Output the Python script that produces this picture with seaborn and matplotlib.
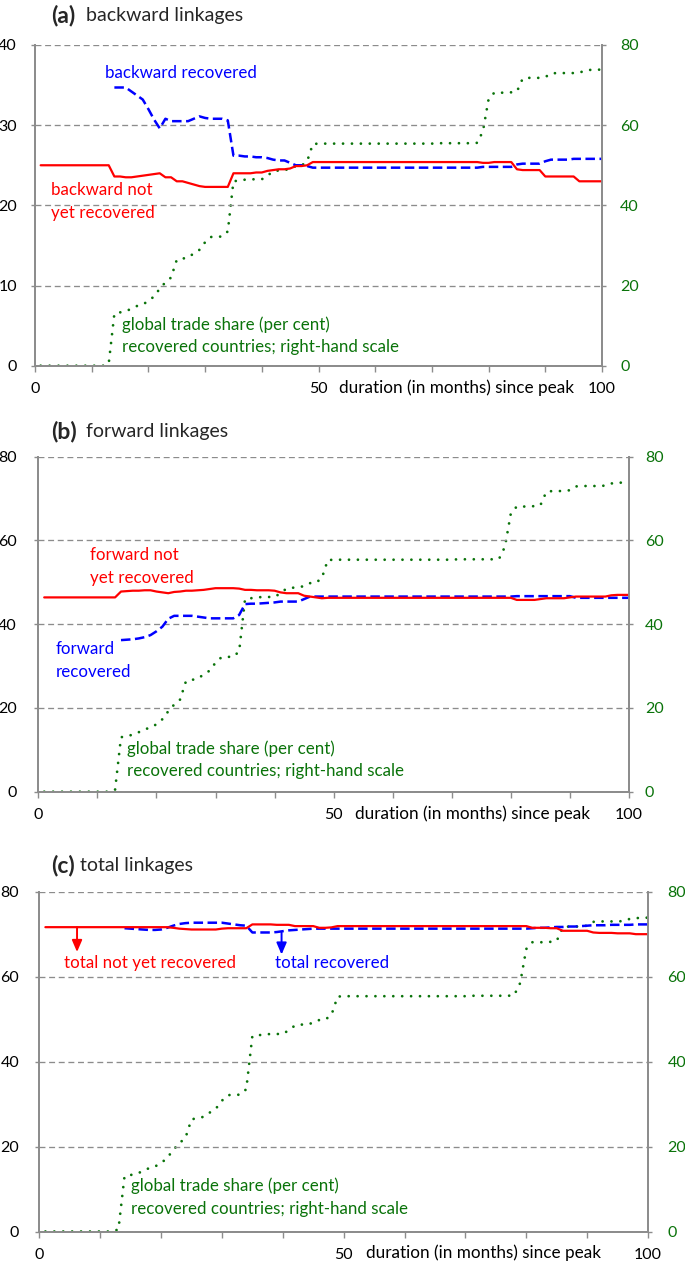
import numpy as np
import pandas as pd
import matplotlib
matplotlib.use("Agg")
import matplotlib.pyplot as plt
import seaborn as sns

# ---------------- data ----------------
months = list(range(1, 101))
rec_months = list(range(14, 101))

trade_share = ([0.0] * 12 + [0.5]
               + [13.0, 13.3, 13.6, 14.2, 14.9, 15.3, 16.1, 17.3, 19.2, 20.8, 22.0]
               + [26.4, 26.7, 27.0, 28.0, 28.9, 30.8, 32.1, 32.2, 32.2, 33.5]
               + [46.0, 46.2, 46.4, 46.5, 46.5, 46.5, 47.4, 48.5, 48.7, 48.8, 49.1, 49.8, 49.9, 51.0, 55.3]
               + [55.4] * 21 + [55.5] * 7
               + [55.6, 58.5, 66.5, 68.1]
               + [68.1, 68.1, 68.2, 68.4]
               + [71.6, 71.8, 71.8, 71.8, 72.0]
               + [72.9, 73.0, 73.0, 73.0, 73.0, 73.1]
               + [73.6, 73.8, 73.8, 73.9])

backward_not = ([25.0] * 13
                + [23.6, 23.6, 23.5, 23.5, 23.6, 23.7]
                + [23.8, 23.9, 24.0, 23.5, 23.5]
                + [23.0, 23.0, 22.8, 22.6, 22.4, 22.3, 22.3, 22.3, 22.3]
                + [22.3]
                + [24.0, 24.0, 24.0, 24.0, 24.1, 24.1]
                + [24.3, 24.4, 24.5, 24.5, 24.6, 24.9, 24.9, 25.0]
                + [25.4] * 30
                + [25.3, 25.3]
                + [25.4] * 4
                + [24.5, 24.4, 24.4, 24.4, 24.4]
                + [23.6] * 6
                + [23.0] * 5)

backward_rec = ([34.7, 34.7, 34.7]
                + [34.2, 33.7, 33.2, 32.0, 30.7, 29.6]
                + [30.8, 30.5, 30.5, 30.5, 30.5]
                + [30.8, 31.1, 30.9, 30.8, 30.8, 30.8]
                + [30.6, 26.2]
                + [26.2, 26.1, 26.1, 26.0, 26.0]
                + [25.9, 25.7, 25.6, 25.6, 25.3, 25.0, 25.0, 24.9, 24.7]
                + [24.7] * 29
                + [24.8] * 6
                + [25.1, 25.2, 25.2, 25.2, 25.2, 25.5, 25.7]
                + [25.7, 25.7, 25.7, 25.8, 25.8, 25.8, 25.8, 25.8, 25.8])

forward_not = ([46.4] * 13
               + [47.8, 47.9, 48.0, 48.0, 48.1, 48.1]
               + [47.8, 47.6, 47.4, 47.7, 47.8, 48.0, 48.0, 48.1, 48.2]
               + [48.4, 48.6, 48.6, 48.6, 48.6, 48.5]
               + [48.2, 48.2, 48.1, 48.1, 48.1, 48.0]
               + [47.6, 47.4, 47.4, 47.4, 46.8, 46.6, 46.4, 46.2]
               + [46.3] * 32
               + [45.8] * 4
               + [46.0, 46.2, 46.2, 46.2, 46.2]
               + [46.4, 46.6, 46.6, 46.6, 46.6, 46.6, 46.6]
               + [46.9, 47.0, 47.0, 47.0])

forward_rec = ([36.2, 36.3, 36.4]
               + [36.6, 36.9, 37.4, 38.3, 39.4, 41.3, 42.0]
               + [42.0, 42.0, 42.0]
               + [41.8, 41.6, 41.4, 41.4, 41.4, 41.4, 41.4]
               + [42.2, 44.8, 44.9, 44.9, 45.0]
               + [45.1, 45.2, 45.4, 45.4, 45.4, 45.4, 46.0, 46.6]
               + [46.6] * 34
               + [46.7] * 10
               + [46.3] * 10)

total_not = ([71.65] * 21
             + [71.5, 71.3]
             + [71.2, 71.1, 71.1, 71.1, 71.1, 71.1]
             + [71.3, 71.4, 71.4, 71.4, 71.4]
             + [72.3, 72.3, 72.3, 72.3, 72.2, 72.2, 72.2]
             + [71.9] * 4
             + [71.5, 71.5, 71.6, 71.9]
             + [71.9] * 31
             + [71.5, 71.5, 71.5, 71.4, 71.4]
             + [70.8] * 5
             + [70.4, 70.3, 70.3, 70.3, 70.2, 70.2, 70.2]
             + [70.0] * 3)

total_rec = ([71.4, 71.3, 71.2, 71.1, 71.0, 71.0, 71.1]
             + [71.5, 72.0, 72.4, 72.6, 72.7]
             + [72.7] * 5
             + [72.5, 72.3, 72.1, 72.0]
             + [70.4, 70.4, 70.4, 70.4, 70.5]
             + [70.7, 70.9, 71.0, 71.1, 71.2, 71.3]
             + [71.3] * 35
             + [71.4, 71.5, 71.5, 71.6, 71.7, 71.7]
             + [71.8, 71.8, 71.9, 72.0, 72.1]
             + [72.1, 72.1, 72.2, 72.2, 72.2, 72.2, 72.3, 72.3, 72.3])

x_tick_labels = ["0", "", "", "", "", "50", "", "", "", "", "100"]
panel_tags = ["(a)", "(b)", "(c)"]
panel_titles = ["backward linkages", "forward linkages", "total linkages"]
green_note = ["global trade share (per cent)", "recovered countries; right-hand scale"]
x_note = "duration (in months) since peak"

# ---------------- style ----------------
sns.set_style("white")
plt.rcParams["font.family"] = ["Lato", "DejaVu Sans"]

RED = "#FF0000"
BLUE = "#0000FF"
GREEN = "#0A730A"
GRAY = "#8C8C8C"
ANN = 12.2
TICK = 11.5

W, H = 685, 1269
fig = plt.figure(figsize=(W / 100, H / 100), dpi=100)


def rect(x0, x1, ytop, ybot):
    return [x0 / W, 1 - ybot / H, (x1 - x0) / W, (ybot - ytop) / H]


def make_axes(r, ymax, ystep, lpad, rpad):
    ax = fig.add_axes(r)
    ax2 = ax.twinx()
    ax.set_xlim(0, 100)
    ax.set_ylim(0, ymax)
    ax2.set_ylim(0, 80)
    ax.set_xticks(range(0, 101, 10))
    ax.set_xticklabels(x_tick_labels)
    ax.set_yticks(np.arange(0, ymax + 0.1, ystep))
    ax2.set_yticks(range(0, 81, 20))
    for a in (ax, ax2):
        a.spines["top"].set_visible(False)
        for s in ("left", "right", "bottom"):
            a.spines[s].set_color(GRAY)
            a.spines[s].set_linewidth(1.3)
    ax.grid(axis="y", color=GRAY, linestyle=(0, (4.5, 2.8)), linewidth=0.95)
    ax.grid(axis="x", visible=False)
    ax2.grid(False)
    ax.tick_params(axis="x", direction="out", length=4, width=1, color=GRAY,
                   pad=8, labelsize=TICK, labelcolor="black", bottom=True)
    ax.tick_params(axis="y", direction="out", length=3, width=1, color=GRAY,
                   pad=lpad, labelsize=TICK, labelcolor="black", left=True)
    ax2.tick_params(axis="y", direction="out", length=3, width=1, color=GRAY,
                    pad=rpad, labelsize=TICK, labelcolor=GREEN, right=True)
    ax.set_zorder(ax2.get_zorder() + 1)
    ax.patch.set_visible(False)
    return ax, ax2


def draw_green(ax2):
    sns.lineplot(x=months, y=trade_share, ax=ax2, color=GREEN, linewidth=2.0,
                 linestyle=(0, (0.01, 3.2)), dash_capstyle="round", estimator=None)
    ax2.set_ylabel("")


def draw_lines(ax, not_rec, rec):
    sns.lineplot(x=rec_months, y=rec, ax=ax, color=BLUE, linewidth=1.8,
                 linestyle=(0, (3.8, 1.8)), estimator=None)
    sns.lineplot(x=months, y=not_rec, ax=ax, color=RED, linewidth=1.6, estimator=None)
    ax.set_xlabel("")
    ax.set_ylabel("")


def notes(ax, xg, y1, y2):
    ax.text(xg, y1, green_note[0], color=GREEN, fontsize=ANN, va="center", ha="left")
    ax.text(xg, y2, green_note[1], color=GREEN, fontsize=ANN, va="center", ha="left")
    ax.annotate(x_note, xy=(53.6, 0), xycoords=("data", "axes fraction"),
                xytext=(0, -15.5), textcoords="offset points",
                va="center", ha="left", fontsize=12.3, color="black")


def title(tag, text, x_text, y_px):
    fig.text(51.0 / W, 1 - y_px / H, tag, fontsize=16.5, fontweight="bold", va="center", ha="left")
    fig.text(x_text / W, 1 - y_px / H, text, fontsize=14, va="center", ha="left")


# ---- panel (a) ----
axa, axa2 = make_axes(rect(35, 602, 45, 365.7), 40, 10, 10, 10)
draw_green(axa2)
draw_lines(axa, backward_not, backward_rec)
axa.text(12.4, 36.5, "backward recovered", color=BLUE, fontsize=ANN, va="center", ha="left")
axa.text(2.9, 21.9, "backward not", color=RED, fontsize=ANN, va="center", ha="left")
axa.text(2.9, 19.1, "yet recovered", color=RED, fontsize=ANN, va="center", ha="left")
notes(axa, 15.4, 5.1, 2.3)
title(panel_tags[0], panel_titles[0], 86, 16)

# ---- panel (b) ----
axb, axb2 = make_axes(rect(38.3, 629, 456.7, 791.7), 80, 20, 12.5, 8.5)
draw_green(axb2)
draw_lines(axb, forward_not, forward_rec)
axb.text(8.75, 56.5, "forward not", color=RED, fontsize=ANN, va="center", ha="left")
axb.text(8.75, 51.0, "yet recovered", color=RED, fontsize=ANN, va="center", ha="left")
axb.text(3.0, 34.0, "forward", color=BLUE, fontsize=ANN, va="center", ha="left")
axb.text(3.0, 28.5, "recovered", color=BLUE, fontsize=ANN, va="center", ha="left")
notes(axb, 15.1, 10.2, 4.9)
title(panel_tags[1], panel_titles[1], 86, 431.7)

# ---- panel (c) ----
axc, axc2 = make_axes(rect(39.3, 648, 891.7, 1231.5), 80, 20, 11.5, 11)
draw_green(axc2)
draw_lines(axc, total_not, total_rec)
arrow_kw = dict(arrowstyle="-|>,head_length=0.7,head_width=0.3", linewidth=1.4, shrinkA=0, shrinkB=0)
axc.annotate("", xy=(6.2, 65.8), xytext=(6.2, 71.65),
             arrowprops=dict(color=RED, **arrow_kw))
axc.annotate("", xy=(39.8, 65.2), xytext=(39.8, 70.4),
             arrowprops=dict(color=BLUE, **arrow_kw))
axc.text(4.0, 63.1, "total not yet recovered", color=RED, fontsize=ANN, va="center", ha="left")
axc.text(38.8, 63.1, "total recovered", color=BLUE, fontsize=ANN, va="center", ha="left")
notes(axc, 15.1, 10.7, 5.3)
title(panel_tags[2], panel_titles[2], 80, 865)

fig.savefig("out.png", dpi=100)
